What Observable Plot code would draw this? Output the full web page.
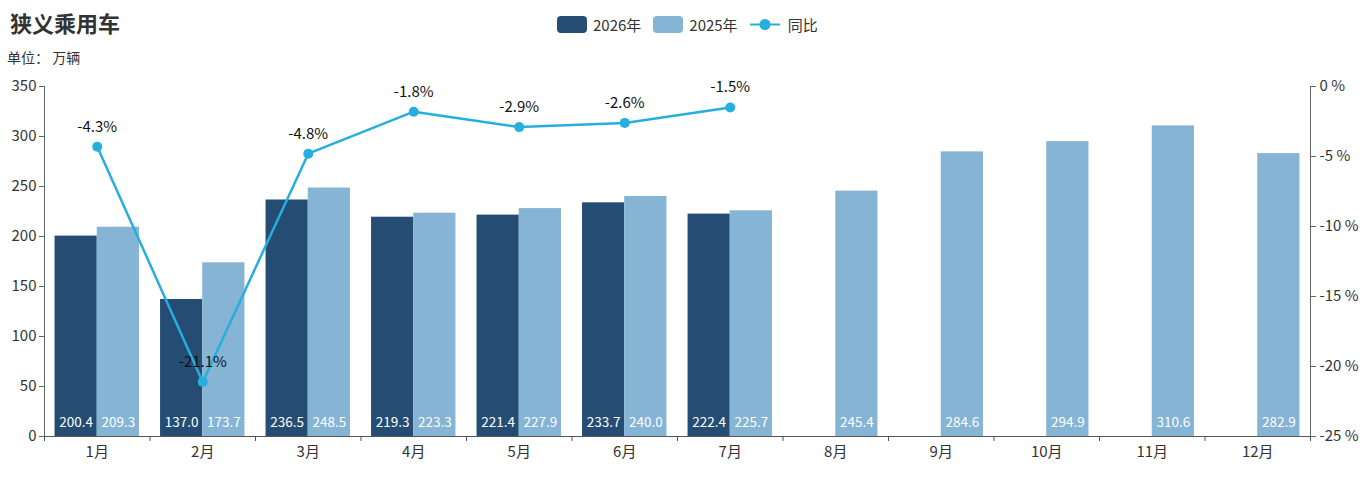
<!DOCTYPE html>
<html>
<head>
<meta charset="utf-8">
<script src="https://cdn.jsdelivr.net/npm/d3@7"></script>
<script src="https://cdn.jsdelivr.net/npm/@observablehq/plot@0.6"></script>
<style>
  body { margin: 0; background: #fff; font-family: "Noto Sans CJK SC", "Noto Sans", sans-serif; }
  #wrap { position: relative; width: 1371px; height: 485px; }
  #title { position: absolute; left: 10px; top: 11px; font-size: 22px; font-weight: bold; color: #333; line-height: 1; }
  #unit { position: absolute; left: 7px; top: 50px; font-size: 14px; color: #333; line-height: 1; }
  #legend { position: absolute; left: 557px; top: 16px; display: flex; align-items: center; font-size: 15px; color: #333; line-height: 1; }
  .sw { width: 30px; height: 17px; border-radius: 4px; display: inline-block; margin-right: 6px; }
  .item { display: flex; align-items: center; margin-right: 12px; }
  #chart { position: absolute; left: 0; top: 0; }
</style>
</head>
<body>
<div id="wrap">
  <div id="chart"></div>
  <div id="title">狭义乘用车</div>
  <div id="unit">单位：&nbsp;万辆</div>
  <div id="legend"></div>
</div>
<script>
const months = ["1月","2月","3月","4月","5月","6月","7月","8月","9月","10月","11月","12月"];
const sales2026 = [200.4, 137.0, 236.5, 219.3, 221.4, 233.7, 222.4];
const sales2025 = [209.3, 173.7, 248.5, 223.3, 227.9, 240.0, 225.7, 245.4, 284.6, 294.9, 310.6, 282.9];
const yoy = [-4.3, -21.1, -4.8, -1.8, -2.9, -2.6, -1.5];
const leftTicks = [0, 50, 100, 150, 200, 250, 300, 350];
const rightTicks = [0, -5, -10, -15, -20, -25];
const seriesNames = ["2026年", "2025年", "同比"];

const C26 = "#254d74", C25 = "#85b4d5", CL = "#27aedf";

// legend
const leg = document.getElementById("legend");
[[seriesNames[0], C26], [seriesNames[1], C25]].forEach(([n, c]) => {
  const it = document.createElement("div"); it.className = "item";
  it.innerHTML = `<span class="sw" style="background:${c}"></span><span>${n}</span>`;
  leg.appendChild(it);
});
{
  const it = document.createElement("div"); it.className = "item";
  it.innerHTML = `<svg width="30" height="17" style="margin-right:8px"><line x1="0" y1="8.5" x2="30" y2="8.5" stroke="${CL}" stroke-width="2"/><circle cx="15" cy="8.5" r="5.5" fill="${CL}"/></svg><span>${seriesNames[2]}</span>`;
  leg.appendChild(it);
}

const d26 = sales2026.map((v, i) => ({i, v}));
const d25 = sales2025.map((v, i) => ({i, v}));
const dy = yoy.map((v, i) => ({i, v, y: (v + 25) * 14}));
const bandTicks = d3.range(0, 13);

const chart = Plot.plot({
  width: 1371,
  height: 485,
  marginTop: 86,
  marginBottom: 49,
  marginLeft: 44,
  marginRight: 61,
  style: { fontFamily: "'Noto Sans CJK SC', 'Noto Sans', sans-serif", background: "transparent" },
  x: { type: "linear", domain: [0, 12] },
  y: { type: "linear", domain: [0, 350] },
  marks: [
    Plot.rectY(d26, { x1: d => d.i + 0.1, x2: d => d.i + 0.5, y1: 0, y2: "v", fill: C26 }),
    Plot.rectY(d25, { x1: d => d.i + 0.5, x2: d => d.i + 0.9, y1: 0, y2: "v", fill: C25 }),
    Plot.text(d26, { x: d => d.i + 0.3, y: 0, dy: -14, text: d => d.v.toFixed(1), fill: "#fff", fontSize: 13.5 }),
    Plot.text(d25, { x: d => d.i + 0.7, y: 0, dy: -14, text: d => d.v.toFixed(1), fill: "#fff", fontSize: 13.5 }),
    // left axis
    Plot.axisY({ anchor: "left", ticks: leftTicks, tickSize: 5, fontSize: 15, color: "#333", stroke: "#666", label: null, tickPadding: 3 }),
    Plot.ruleX([0], { stroke: "#666", strokeWidth: 1 }),
    // right axis
    Plot.axisY({ anchor: "right", ticks: rightTicks.map(t => (t + 25) * 14), tickFormat: d => `${Math.round(d / 14 - 25)} %`, tickSize: 5, fontSize: 15, color: "#333", stroke: "#666", label: null, tickPadding: 4 }),
    Plot.ruleX([12], { stroke: "#666", strokeWidth: 1 }),
    // bottom axis
    Plot.ruleY([0], { stroke: "#555", strokeWidth: 1.2 }),
    Plot.axisX({ ticks: bandTicks, tickFormat: () => "", tickSize: 5, stroke: "#555", label: null }),
    Plot.axisX({ ticks: months.map((m, i) => i + 0.5), tickFormat: d => months[Math.floor(d)], tickSize: 0, tickPadding: 10, fontSize: 15, color: "#333", label: null }),
    // yoy line
    Plot.line(dy, { x: d => d.i + 0.5, y: "y", stroke: CL, strokeWidth: 2.5 }),
    Plot.dot(dy, { x: d => d.i + 0.5, y: "y", r: 5, fill: CL }),
    Plot.text(dy, { x: d => d.i + 0.5, y: "y", dy: -20, text: d => `${d.v.toFixed(1)}%`, fill: "#111", fontSize: 15 })
  ]
});
document.getElementById("chart").appendChild(chart);
</script>
</body>
</html>
